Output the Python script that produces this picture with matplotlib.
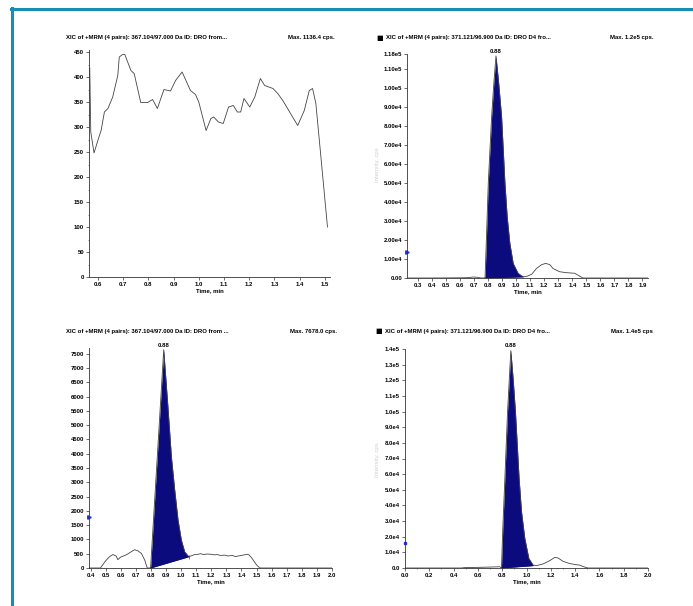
import numpy as np
import matplotlib.pyplot as plt
from matplotlib.lines import Line2D
from matplotlib.ticker import FixedLocator, MultipleLocator

W, H = 693, 606

# панель 1: 367.104/97.000, шум без пика
t1 = [0.568, 0.572, 0.585, 0.600, 0.613, 0.626, 0.640, 0.659, 0.679, 0.685, 0.698, 0.707,
      0.731, 0.744, 0.770, 0.797, 0.817, 0.836, 0.862, 0.888, 0.908, 0.934, 0.967, 0.987,
      1.000, 1.029, 1.048, 1.059, 1.078, 1.097, 1.118, 1.137, 1.153, 1.166, 1.179, 1.202,
      1.222, 1.244, 1.261, 1.294, 1.313, 1.333, 1.392, 1.418, 1.438, 1.451, 1.464, 1.484, 1.510]
i1 = [418, 290, 248, 273, 293, 330, 337, 360, 403, 440, 445, 445,
      413, 407, 349, 349, 355, 337, 375, 372, 393, 410, 373, 365,
      350, 293, 317, 320, 310, 307, 340, 343, 330, 330, 357, 340,
      360, 397, 383, 377, 367, 353, 303, 333, 373, 377, 347, 240, 100]

# панель 2: 371.121/96.900 (D4)
t2 = [0.22, 0.40, 0.60, 0.66, 0.69, 0.72, 0.75, 0.777, 0.784, 0.800, 0.824, 0.840,
      0.855, 0.874, 0.895, 0.919, 0.935, 0.954, 0.978, 1.013, 1.049,
      1.080, 1.110, 1.144, 1.180, 1.210, 1.240, 1.262, 1.310, 1.358, 1.417, 1.452, 1.476,
      1.55, 1.94]
i2 = [0, 0, 100, 200, 500, 400, 0, 0, 14700, 50000, 85000, 103000,
      117000, 103000, 85000, 50000, 32300, 18300, 7700, 2500, 600,
      1000, 2000, 5000, 7000, 7700, 7000, 5000, 3300, 2800, 2500, 1000, 0,
      0, 0]
peak2 = (0.777, 1.049)
base2 = (0, 600)

# панель 3: 367.104/97.000
t3 = [0.39, 0.466, 0.500, 0.526, 0.548, 0.570, 0.581, 0.599, 0.637, 0.670, 0.692, 0.714,
      0.737, 0.759, 0.776, 0.798, 0.830, 0.860, 0.885, 0.913, 0.936, 0.958, 0.980, 1.002,
      1.024, 1.051, 1.070, 1.090, 1.112, 1.130, 1.150, 1.170, 1.200, 1.220, 1.240, 1.260,
      1.290, 1.310, 1.340, 1.360, 1.378, 1.400, 1.438, 1.450, 1.467, 1.500, 1.522, 2.0]
i3 = [0, 0, 250, 395, 470, 420, 290, 380, 460, 570, 640, 600,
      510, 280, 0, 0, 2810, 5440, 7640, 5636, 3889, 2725, 1677, 978,
      570, 395, 430, 470, 480, 500, 470, 490, 480, 460, 470, 440,
      450, 420, 440, 400, 420, 440, 480, 460, 360, 110, 0, 0]
peak3 = (0.798, 1.051)
base3 = (0, 395)

# панель 4: 371.121/96.900 (D4)
t4 = [0.0, 0.46, 0.50, 0.60, 0.70, 0.78, 0.794, 0.805, 0.822, 0.844, 0.871, 0.890, 0.909,
      0.939, 0.959, 0.986, 1.019, 1.054, 1.082, 1.137, 1.191, 1.233, 1.260, 1.300,
      1.356, 1.438, 1.470, 1.506, 2.0]
i4 = [0, 0, 300, 400, 600, 800, 0, 25400, 57400, 100000, 139000, 121000, 100000,
      57400, 36000, 19000, 6200, 1900, 1500, 2600, 4700, 6800, 6400, 4300,
      2800, 1800, 800, 0, 0]
peak4 = (0.794, 1.054)
base4 = (0, 1500)

titles_left = ["XIC of +MRM (4 pairs): 367.104/97.000 Da ID: DRO from...",
               "XIC of +MRM (4 pairs): 371.121/96.900 Da ID: DRO D4 fro...",
               "XIC of +MRM (4 pairs): 367.104/97.000 Da ID: DRO from ...",
               "XIC of +MRM (4 pairs): 371.121/96.900 Da ID: DRO D4 fro..."]
titles_right = ["Max. 1136.4 cps.", "Max. 1.2e5 cps.", "Max. 7678.0 cps.", "Max. 1.4e5 cps"]

xt1 = [0.6, 0.7, 0.8, 0.9, 1.0, 1.1, 1.2, 1.3, 1.4, 1.5]
xt2 = [0.3, 0.4, 0.5, 0.6, 0.7, 0.8, 0.9, 1.0, 1.1, 1.2, 1.3, 1.4, 1.5, 1.6, 1.7, 1.8, 1.9]
xt3 = [0.4, 0.5, 0.6, 0.7, 0.8, 0.9, 1.0, 1.1, 1.2, 1.3, 1.4, 1.5, 1.6, 1.7, 1.8, 1.9, 2.0]
xt4 = [0.0, 0.2, 0.4, 0.6, 0.8, 1.0, 1.2, 1.4, 1.6, 1.8, 2.0]

yt1 = [0, 50, 100, 150, 200, 250, 300, 350, 400, 450]
yt2 = [0, 1e4, 2e4, 3e4, 4e4, 5e4, 6e4, 7e4, 8e4, 9e4, 1e5, 1.1e5, 1.18e5]
yl2 = ["0.00", "1.00e4", "2.00e4", "3.00e4", "4.00e4", "5.00e4", "6.00e4", "7.00e4",
       "8.00e4", "9.00e4", "1.00e5", "1.10e5", "1.18e5"]
yt3 = [0, 500, 1000, 1500, 2000, 2500, 3000, 3500, 4000, 4500, 5000, 5500, 6000, 6500, 7000, 7500]
yt4 = [0, 1e4, 2e4, 3e4, 4e4, 5e4, 6e4, 7e4, 8e4, 9e4, 1e5, 1.1e5, 1.2e5, 1.3e5, 1.4e5]
yl4 = ["0.0", "1.0e4", "2.0e4", "3.0e4", "4.0e4", "5.0e4", "6.0e4", "7.0e4", "8.0e4",
       "9.0e4", "1.0e5", "1.1e5", "1.2e5", "1.3e5", "1.4e5"]

apex_label = "0.88"
fill_c = '#0b0b7d'
line_c = '#444444'
fs = 4.3
plt.rcParams['font.family'] = ['Liberation Sans', 'DejaVu Sans']

fig = plt.figure(figsize=(W / 100, H / 100), dpi=100)


def rect(l, t, r, b):
    return [l / W, 1 - b / H, (r - l) / W, (b - t) / H]


def style(ax, xt, yt, yl, xlim, ylim):
    ax.set_xlim(*xlim)
    ax.set_ylim(*ylim)
    for s in ['top', 'right']:
        ax.spines[s].set_visible(False)
    for s in ['left', 'bottom']:
        ax.spines[s].set_linewidth(0.6)
        ax.spines[s].set_color('#333333')
    ax.xaxis.set_major_locator(FixedLocator(xt))
    ax.set_xticklabels(["%.1f" % v for v in xt])
    ax.yaxis.set_major_locator(FixedLocator(yt))
    ax.set_yticklabels(yl)
    ax.tick_params(length=2, width=0.5, pad=1.5, labelsize=fs, colors='#333333', labelcolor='black')
    for lab in ax.get_xticklabels() + ax.get_yticklabels():
        lab.set_fontweight('bold')
    ax.set_xlabel("Time, min", fontsize=fs, fontweight='bold', labelpad=1)


def draw(ax, t, y, peak=None, base=None, mark=False):
    t = np.array(t)
    y = np.array(y, dtype=float)
    ax.plot(t, y, color=line_c, lw=0.6)
    if peak is not None:
        m = (t >= peak[0]) & (t <= peak[1])
        bl = np.interp(t[m], list(peak), list(base))
        ax.fill_between(t[m], bl, y[m], color=fill_c, lw=0)
        ax.plot(list(peak), list(base), color=fill_c, lw=0.6)
        k = np.argmax(y)
        ax.annotate(apex_label, (t[k], y[k]), xytext=(0, 1.5), textcoords='offset points',
                    ha='center', va='bottom', fontsize=fs, fontweight='bold')
        if mark:
            ax.plot([peak[1]], [base[1]], marker='|', ms=3, mew=0.5, color=line_c)


# 1
ax1 = fig.add_axes(rect(89, 50, 330, 277))
draw(ax1, t1, i1)
style(ax1, xt1, yt1, [str(v) for v in yt1], (0.565, 1.52), (0, 454))
ax1.yaxis.set_minor_locator(MultipleLocator(25))
ax1.tick_params(which='minor', length=1, width=0.4, colors='#333333')

# 2
ax2 = fig.add_axes(rect(407, 54, 648, 278))
draw(ax2, t2, i2, peak2, base2)
style(ax2, xt2, yt2, yl2, (0.22, 1.94), (0, 1.18e5))
ax2.plot([0.22], [1.37e4], marker='>', ms=2.5, color='#2233cc', clip_on=False)

# 3
ax3 = fig.add_axes(rect(89, 348, 332, 568))
draw(ax3, t3, i3, peak3, base3, mark=True)
style(ax3, xt3, yt3, [str(v) for v in yt3], (0.39, 2.0), (0, 7700))
ax3.plot([0.39], [1780], marker='>', ms=2.5, color='#2233cc', clip_on=False)

# 4
ax4 = fig.add_axes(rect(405, 349, 648, 568))
draw(ax4, t4, i4, peak4, base4)
style(ax4, xt4, yt4, yl4, (0.0, 2.0), (0, 1.4e5))
ax4.xaxis.set_minor_locator(MultipleLocator(0.1))
ax4.tick_params(which='minor', length=1, width=0.4, colors='#333333')
ax4.plot([0.0], [1.6e4], marker='s', ms=1.8, color='#2233cc', clip_on=False)

# заголовки
tpos = [(66, 335, 37, False), (386, 653, 38, True), (66, 337, 332, False), (385, 653, 331, True)]
for k, (xl, xr, yy, sq) in enumerate(tpos):
    fig.text(xl / W, 1 - yy / H, titles_left[k], fontsize=fs, fontweight='bold', va='center', ha='left')
    fig.text(xr / W, 1 - yy / H, titles_right[k], fontsize=fs, fontweight='bold', va='center', ha='right')
    if sq:
        fig.text((xl - 10) / W, 1 - yy / H, "\u25a0", fontsize=5, va='center', ha='left', family='DejaVu Sans')

for yy in [165, 460]:
    fig.text(377 / W, 1 - yy / H, "Intensity, cps", rotation=90, fontsize=fs, color='#d0d0d0',
             ha='center', va='center')

# синяя рамка
bc = '#1a8cb4'
fig.add_artist(Line2D([11 / W, 1], [1 - 9 / H, 1 - 9 / H], color=bc, lw=2.2, transform=fig.transFigure))
fig.add_artist(Line2D([12 / W, 12 / W], [1 - 8 / H, 0], color=bc, lw=2.2, transform=fig.transFigure))

fig.savefig("out.png", dpi=100)
